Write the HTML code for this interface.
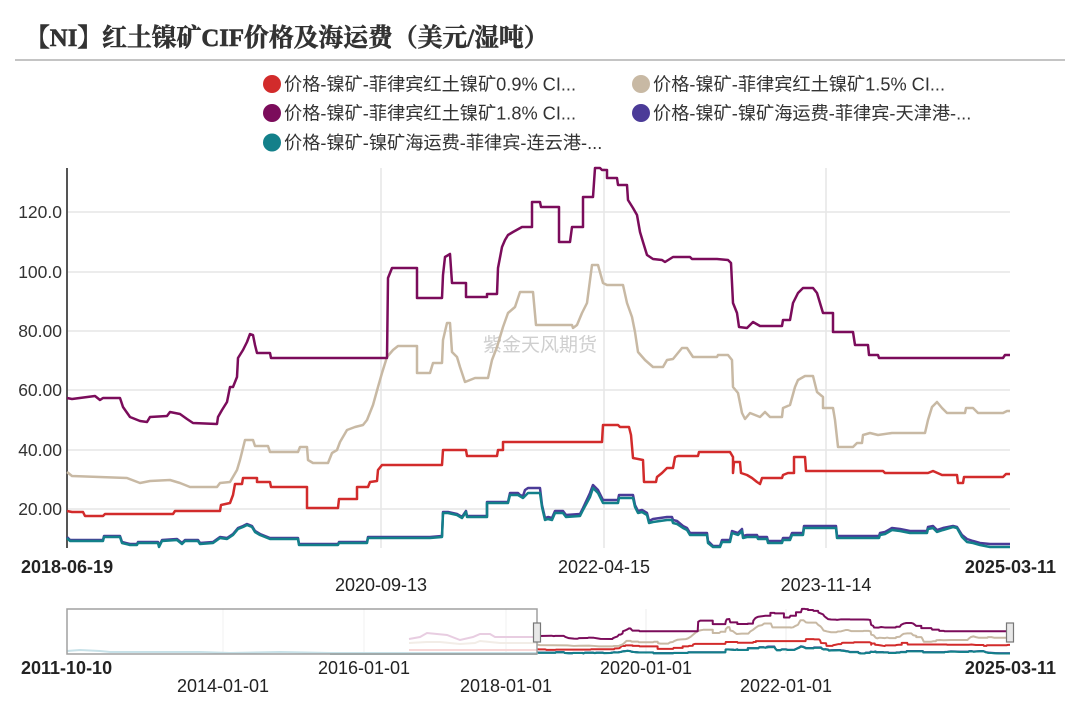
<!DOCTYPE html>
<html><head><meta charset="utf-8"><style>
html,body{margin:0;padding:0;background:#fff;}
svg{display:block;}
text{font-family:"Liberation Sans","Noto Sans CJK SC",sans-serif;}
</style></head><body>
<svg width="1080" height="701" viewBox="0 0 1080 701" xmlns="http://www.w3.org/2000/svg">
<defs>
<polyline id="sRed" fill="none" stroke="#d22b2b" vector-effect="non-scaling-stroke" stroke-linejoin="round" points="67,511 72,512 83,512 85,516 103,516 105,514 173,514 175,511 220,511 221,505 230,503 233,495 235,484 242,484 243,478 257,478 257,482 270,482 271,487 307,487 307,508 338,508 339,499 357,499 357,487 368,487 370,482 377,481 378,470 382,465 442,465 443,450 466,450 467,456 497,456 498,450 503,450 503,442 602,442 603,425 618,425 620,427 629,427 631,435 633,458 643,460 644,482 656,482 657,477 662,473 667,468 673,468 675,457 678,456 698,456 699,452 730,452 733,457 733,473 734,462 740,462 741,473 747,475 752,478 757,482 760,484 762,478 782,478 783,475 788,473 794,473 794,457 805,457 806,471 883,471 885,473 928,473 933,471 942,475 957,475 958,483 963,483 964,477 1003,477 1006,474 1010,474"/>
<polyline id="sBeige" fill="none" stroke="#c8b9a4" vector-effect="non-scaling-stroke" stroke-linejoin="round" points="67,472 72,476 127,478 140,483 150,481 170,480 180,483 190,487 217,487 220,483 230,482 237,470 240,460 245,440 253,440 255,446 268,446 270,452 298,452 300,447 307,447 308,460 313,463 328,463 332,453 337,450 340,442 347,430 355,427 363,425 367,420 373,405 378,387 382,373 387,357 393,350 398,346 417,346 417,373 430,373 433,363 442,363 443,340 447,323 450,323 452,352 457,357 460,367 465,382 475,378 488,378 492,360 497,347 503,327 508,313 515,307 520,292 533,292 536,325 572,325 573,328 577,325 582,313 587,303 592,265 598,265 603,283 607,285 623,285 627,303 632,317 635,332 638,352 645,360 653,367 663,367 667,360 673,359 682,348 687,348 693,357 717,357 718,355 728,355 732,360 733,387 738,393 742,413 745,419 750,413 760,417 765,412 770,417 782,417 783,408 790,405 795,387 798,380 805,376 813,376 817,392 823,397 823,408 833,408 835,420 838,447 853,447 857,443 862,443 863,435 870,433 878,435 892,433 925,433 928,420 932,407 937,402 942,408 947,413 965,413 966,408 973,408 978,413 1003,413 1007,411 1010,411"/>
<polyline id="sPurple" fill="none" stroke="#7b0c5b" vector-effect="non-scaling-stroke" stroke-linejoin="round" points="67,398 72,399 95,396 100,400 103,398 120,398 123,407 130,417 140,421 147,422 150,417 167,416 170,412 180,414 187,419 193,423 217,424 218,417 222,410 227,402 230,387 233,387 237,377 238,358 243,350 247,342 250,334 253,335 255,345 257,353 270,353 271,358 387,358 388,278 392,268 417,268 417,298 442,298 443,275 445,257 450,254 452,283 466,283 466,297 487,297 487,294 497,294 498,268 502,247 505,240 508,235 513,232 522,227 532,227 532,202 540,202 541,207 559,207 559,242 570,242 572,227 583,227 583,197 593,197 595,168 600,168 602,170 607,170 607,178 617,178 618,185 627,185 628,200 633,208 637,215 640,232 643,242 647,255 653,259 662,260 665,262 673,257 690,257 692,259 717,259 728,260 731,263 733,303 737,313 739,327 747,328 753,322 760,326 782,326 783,320 790,320 793,303 798,293 803,288 813,288 817,293 823,313 833,313 833,332 853,332 855,345 868,345 869,355 878,355 879,358 1003,358 1005,355 1010,355"/>
<polyline id="sIndigo" fill="none" stroke="#4b3b98" vector-effect="non-scaling-stroke" stroke-linejoin="round" points="67,537 70,540 103,540 104,536 120,536 122,542 130,544 137,544 138,542 158,542 159,546 162,540 177,539 182,543 185,540 198,540 200,543 213,542 220,537 227,538 233,534 238,528 243,526 247,524 252,526 255,531 260,534 270,538 298,538 299,544 338,544 339,542 367,542 368,537 377,537 430,537 442,536 443,512 448,512 457,514 462,517 466,511 467,516 487,516 487,502 508,502 510,493 518,493 520,495 523,496 525,490 528,488 540,488 542,505 545,518 548,517 552,518 555,511 563,511 566,515 580,514 583,508 590,493 593,485 598,490 603,500 618,500 619,495 633,495 635,505 638,511 642,510 647,513 649,521 653,519 667,517 672,517 673,520 677,521 683,526 687,528 690,533 707,533 708,541 713,546 720,546 722,540 730,540 732,531 738,533 742,529 743,536 747,535 757,535 758,537 767,537 768,541 782,541 783,538 790,538 792,533 803,533 804,526 836,526 837,536 879,536 880,533 885,532 892,528 900,529 910,531 927,531 928,527 933,526 937,530 943,528 953,526 957,527 962,535 967,539 973,541 980,543 990,544 1010,544"/>
<polyline id="sTeal" fill="none" stroke="#13808a" vector-effect="non-scaling-stroke" stroke-linejoin="round" points="67,538 70,541 103,541 104,537 120,537 122,543 130,545 137,545 138,543 158,543 159,547 162,541 177,540 182,544 185,541 198,541 200,544 213,543 220,538 227,539 233,535 238,529 243,527 247,525 252,527 255,532 260,535 270,539 298,539 299,545 338,545 339,543 367,543 368,538 377,538 430,538 442,537 443,513 448,513 457,515 462,518 466,512 467,517 487,517 487,503 508,503 510,495 518,495 523,498 528,493 540,493 542,507 545,520 548,519 552,520 555,513 563,513 566,517 580,516 583,510 590,497 593,488 598,493 603,503 618,503 619,498 633,498 635,507 638,513 642,512 647,515 649,523 653,522 667,520 672,520 673,523 677,524 683,528 687,530 690,535 707,535 708,543 713,547 720,547 722,542 730,542 732,533 738,535 742,531 743,538 747,537 757,537 758,539 767,539 768,543 782,543 783,540 790,540 792,535 803,535 804,528 836,528 837,538 879,538 880,535 885,534 892,530 900,531 910,533 927,533 928,529 933,528 937,532 943,530 953,527 957,528 962,537 967,542 973,543 980,545 990,547 1010,547"/>
</defs>

<!-- Title -->
<text x="25" y="46" font-size="24.8" font-weight="bold" fill="#333" stroke="#333" stroke-width="0.6" style="font-family:'Liberation Serif','Noto Serif CJK SC',serif;">【NI】红土镍矿CIF价格及海运费（美元/湿吨）</text>
<rect x="15" y="59" width="1050" height="2" fill="#c4c4c4"/>

<!-- Legend -->
<g font-size="18.2" fill="#333">
<circle cx="272" cy="84" r="9" fill="#d22b2b"/>
<text x="284" y="90.5">价格-镍矿-菲律宾红土镍矿0.9% CI...</text>
<circle cx="641" cy="84" r="9" fill="#c8b9a4"/>
<text x="653" y="90.5">价格-镍矿-菲律宾红土镍矿1.5% CI...</text>
<circle cx="272" cy="113" r="9" fill="#7b0c5b"/>
<text x="284" y="119.5">价格-镍矿-菲律宾红土镍矿1.8% CI...</text>
<circle cx="641" cy="113" r="9" fill="#4b3b98"/>
<text x="653" y="119.5">价格-镍矿-镍矿海运费-菲律宾-天津港-...</text>
<circle cx="272" cy="142.5" r="9" fill="#13808a"/>
<text x="284" y="149">价格-镍矿-镍矿海运费-菲律宾-连云港-...</text>
</g>

<!-- Grid -->
<g stroke="#e6e6e6" stroke-width="1.5">
<line x1="67" y1="212" x2="1010" y2="212"/>
<line x1="67" y1="272" x2="1010" y2="272"/>
<line x1="67" y1="331" x2="1010" y2="331"/>
<line x1="67" y1="390" x2="1010" y2="390"/>
<line x1="67" y1="450" x2="1010" y2="450"/>
<line x1="67" y1="509" x2="1010" y2="509"/>
<line x1="381" y1="168" x2="381" y2="548"/>
<line x1="604" y1="168" x2="604" y2="548"/>
<line x1="826" y1="168" x2="826" y2="548"/>
</g>
<line x1="67" y1="168" x2="67" y2="548" stroke="#555" stroke-width="2"/>

<!-- Watermark -->
<text x="540" y="351" font-size="19" fill="#cfcfcf" text-anchor="middle">紫金天风期货</text>

<!-- Y labels -->
<g font-size="17.5" fill="#333" text-anchor="end">
<text x="62" y="218">120.0</text>
<text x="62" y="278">100.0</text>
<text x="62" y="337">80.00</text>
<text x="62" y="396">60.00</text>
<text x="62" y="456">40.00</text>
<text x="62" y="515">20.00</text>
</g>

<!-- Series -->
<g stroke-width="2.5">
<use href="#sRed"/>
<use href="#sBeige"/>
<use href="#sPurple"/>
<use href="#sIndigo"/>
<use href="#sTeal"/>
</g>

<!-- X labels -->
<g font-size="18" fill="#222">
<text x="21" y="573" font-weight="bold">2018-06-19</text>
<text x="604" y="573" text-anchor="middle">2022-04-15</text>
<text x="1056" y="573" text-anchor="end" font-weight="bold">2025-03-11</text>
<text x="381" y="591" text-anchor="middle">2020-09-13</text>
<text x="826" y="591" text-anchor="middle">2023-11-14</text>
</g>

<!-- Navigator -->
<g stroke="#ececec" stroke-width="1">
<line x1="223" y1="609" x2="223" y2="654"/>
<line x1="364" y1="609" x2="364" y2="654"/>
<line x1="506" y1="609" x2="506" y2="654"/>
<line x1="646" y1="609" x2="646" y2="654"/>
<line x1="786" y1="609" x2="786" y2="654"/>
</g>
<g fill="none" stroke-width="2">
<polyline stroke="#a9d2dc" points="67,651 80,650 100,651 110,652 160,652 200,652 230,653 280,652 330,653 400,653 460,653 537,653"/>
<polyline stroke="#3d7f86" stroke-opacity="0.5" points="330,654 400,654 537,654"/>
<polyline stroke="#f3c2c2" points="409,650 537,650"/>
<polyline stroke="#ebe4da" points="409,643 427,642 440,642 460,644 475,643 480,641 490,642 500,643 537,643"/>
<polyline stroke="#dcb2d2" points="409,639 420,637 427,633 437,634 447,635 460,640 473,637 480,634 490,634 495,637 510,637 537,637"/>
</g>
<g transform="matrix(0.5013 0 0 0.1178 503.7 589.04)" stroke-width="2">
<use href="#sTeal"/>
<use href="#sRed"/>
<use href="#sBeige"/>
<use href="#sPurple"/>
<use href="#sIndigo"/>
<use href="#sTeal"/>
</g>
<rect x="67" y="609" width="470" height="45" fill="#ffffff" fill-opacity="0.35" stroke="#a0a0a0" stroke-width="1.5"/>
<rect x="533.5" y="623" width="7" height="19" fill="#e8e8e8" stroke="#777" stroke-width="1.2"/>
<rect x="1006.5" y="623" width="7" height="19" fill="#e8e8e8" stroke="#777" stroke-width="1.2"/>

<g font-size="18" fill="#222">
<text x="21" y="674" font-weight="bold">2011-10-10</text>
<text x="364" y="674" text-anchor="middle">2016-01-01</text>
<text x="646" y="674" text-anchor="middle">2020-01-01</text>
<text x="1056" y="674" text-anchor="end" font-weight="bold">2025-03-11</text>
<text x="223" y="692" text-anchor="middle">2014-01-01</text>
<text x="506" y="692" text-anchor="middle">2018-01-01</text>
<text x="786" y="692" text-anchor="middle">2022-01-01</text>
</g>
</svg>
</body></html>
